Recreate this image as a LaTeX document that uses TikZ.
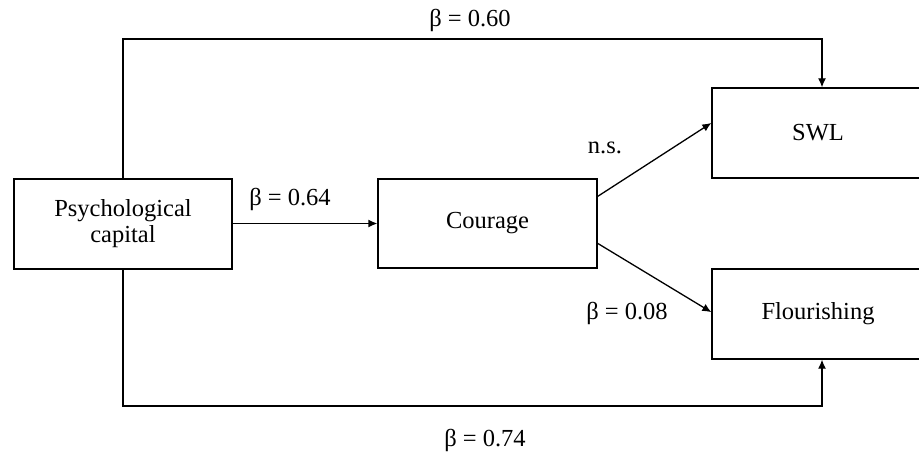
\documentclass[tikz,border=0pt]{standalone}
\usepackage{fontspec}
\setmainfont{Liberation Serif}
\usetikzlibrary{arrows.meta,calc}
\begin{document}
\begin{tikzpicture}[x=1pt,y=-1pt,
  box/.style={draw,line width=1.3pt,rectangle,inner sep=0pt,align=center,font=\fontsize{24.5}{26}\selectfont},
  conn/.style={line width=1.3pt,-{Latex[length=9pt,width=8pt]}},
  lab/.style={font=\fontsize{24.5}{26}\selectfont,inner sep=0pt}]
\useasboundingbox (0,0) rectangle (919,452);
\node[box,minimum width=218pt,minimum height=90pt] (psy) at (123,224) {Psychological\\capital};
\node[box,minimum width=219pt,minimum height=89pt] (cou) at (487.5,223.5) {Courage};
\node[box,minimum width=212pt,minimum height=90pt] (swl) at (818,133) {SWL};
\node[box,minimum width=212pt,minimum height=90pt] (flo) at (818,314) {Flourishing};
\coordinate (t1) at (123,39);
\coordinate (t2) at (822,39);
\coordinate (b1) at (123,406);
\coordinate (b2) at (822,406);
\draw[conn] (psy.north) -- (t1) -- (t2) -- (t2 |- swl.north);
\draw[conn] (psy.south) -- (b1) -- (b2) -- (b2 |- flo.south);
\draw[conn] (psy.east |- cou.west) -- (cou.west);
\draw[conn] ($(cou.north east)!0.2!(cou.south east)$) -- ($(swl.north west)!0.39!(swl.south west)$);
\draw[conn] ($(cou.north east)!0.72!(cou.south east)$) -- ($(flo.north west)!0.48!(flo.south west)$);
\node[lab] (l1) at (470,20) {β = 0.60};
\node[lab] (l2) at (290,199) {β = 0.64};
\node[lab] (l3) at (605,148) {n.s.};
\node[lab] (l4) at (627,313) {β = 0.08};
\node[lab] (l5) at (485,440) {β = 0.74};
\end{tikzpicture}
\end{document}
